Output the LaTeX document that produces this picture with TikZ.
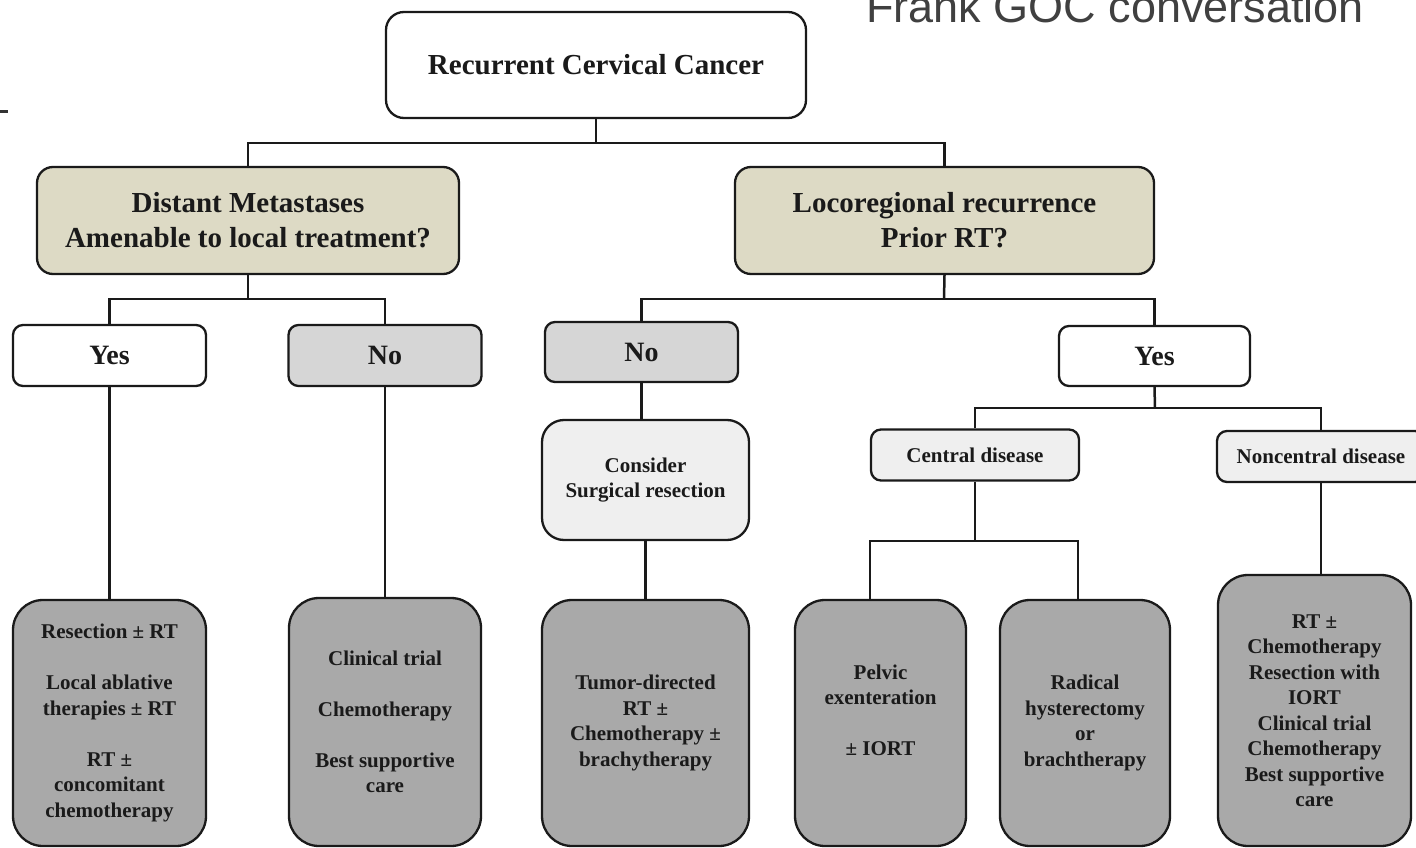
\documentclass[tikz,border=0pt]{standalone}
\usepackage{fontspec}
\setmainfont{Liberation Serif}
\newfontfamily\headsans{Liberation Sans}
\definecolor{beige}{HTML}{DDDAC5}
\definecolor{nogray}{HTML}{D6D6D6}
\definecolor{resgray}{HTML}{A9A9A9}
\definecolor{palegray}{HTML}{EFEFEF}
\definecolor{ink}{HTML}{1A1A1A}
\tikzset{
  basebox/.style={draw=ink, line width=2.3pt, align=center, inner sep=0pt,
    text=ink, font=\bfseries},
  topbox/.style={basebox, fill=white, rounded corners=18pt,
    font=\fontsize{29}{35}\selectfont\bfseries},
  qbox/.style={basebox, fill=beige, rounded corners=16pt,
    font=\fontsize{29}{35}\selectfont\bfseries},
  yesbox/.style={basebox, fill=white, rounded corners=10pt,
    minimum width=193pt, minimum height=61pt,
    font=\fontsize{28}{32}\selectfont\bfseries},
  nobox/.style={yesbox, fill=nogray},
  subbox/.style={basebox, fill=palegray, rounded corners=10pt,
    minimum width=208pt, minimum height=51pt,
    font=\fontsize{21}{25}\selectfont\bfseries},
  considerbox/.style={basebox, fill=palegray, rounded corners=22pt,
    minimum width=207pt, minimum height=120pt,
    font=\fontsize{21}{25.5}\selectfont\bfseries},
  resultbox/.style={basebox, fill=resgray, rounded corners=30pt,
    font=\fontsize{21}{25.5}\selectfont\bfseries},
  link/.style={draw=ink, line width=2.5pt}
}
\begin{document}
\begin{tikzpicture}[x=1pt,y=-1pt]
\useasboundingbox (0,0) rectangle (1416,848);
\fill[white] (0,0) rectangle (1416,848);

% header text and edge mark
\node[anchor=base west, inner sep=0pt, text=black!75,
  font=\headsans\fontsize{45}{50}\selectfont] (hdr) at (866,23) {Frank GOC conversation};
\draw[line width=3pt, draw=black!80] (0,112) -- (8,112);

% root
\node[topbox, minimum width=420pt, minimum height=106pt] (root) at (596,65) {Recurrent Cervical Cancer};

% first split
\node[qbox, minimum width=422pt, minimum height=107pt] (dm) at (248,220.5)
  {Distant Metastases\\Amenable to local treatment?};
\node[qbox, minimum width=419pt, minimum height=107pt] (lr) at (944.5,220.5)
  {Locoregional recurrence\\Prior RT?};
\coordinate (j1) at (596,143);
\draw[link] (root.south) -- (j1);
\draw[link] (dm.north) -- (dm.north |- j1) -- (lr.north |- j1) -- (lr.north);

% distant metastases branch
\node[yesbox] (yes1) at (109.5,355.5) {Yes};
\node[nobox] (no1) at (385,355.5) {No};
\coordinate (j2) at (248,299);
\draw[link] (dm.south) -- (j2);
\draw[link] (yes1.north) -- (yes1.north |- j2) -- (no1.north |- j2) -- (no1.north);

\node[resultbox, minimum width=193pt, minimum height=246pt] (res1) at (109.5,723)
  {Resection ± RT\\[25.5pt]Local ablative\\therapies ± RT\\[25.5pt]RT ±\\concomitant\\chemotherapy};
\node[resultbox, minimum width=192pt, minimum height=248pt] (res2) at (385,722)
  {Clinical trial\\[25.5pt]Chemotherapy\\[25.5pt]Best supportive\\care};
\draw[link] (yes1.south) -- (res1.north);
\draw[link] (no1.south) -- (res2.north);

% locoregional branch
\node[nobox, minimum height=60pt] (no2) at (641.5,352) {No};
\node[yesbox, minimum width=191pt, minimum height=60pt] (yes2) at (1154.5,356) {Yes};
\coordinate (j3) at (944,299);
\draw[link] (lr.south) -- (j3);
\draw[link] (no2.north) -- (no2.north |- j3) -- (yes2.north |- j3) -- (yes2.north);

\node[considerbox] (cons) at (645.5,480) {Consider\\Surgical resection};
\node[resultbox, minimum width=207pt, minimum height=246pt] (res3) at (645.5,723)
  {Tumor-directed\\RT ±\\Chemotherapy ±\\brachytherapy};
\draw[link] (no2.south) -- (no2.south |- cons.north);
\draw[link] (cons.south) -- (res3.north);

% prior RT: central vs noncentral
\node[subbox] (cen) at (975,455) {Central disease};
\node[subbox] (ncen) at (1321,456.5) {Noncentral disease};
\coordinate (j4) at (1155,408);
\draw[link] (yes2.south) -- (j4);
\draw[link] (cen.north) -- (cen.north |- j4) -- (ncen.north |- j4) -- (ncen.north);

\node[resultbox, minimum width=171pt, minimum height=246pt] (pel) at (880.5,723)
  {Pelvic\\exenteration\\[25.5pt]± IORT\\\mbox{}};
\node[resultbox, minimum width=170pt, minimum height=246pt] (rad) at (1085,723)
  {Radical\\hysterectomy\\or\\brachtherapy};
\node[resultbox, minimum width=193pt, minimum height=271pt] (ncr) at (1314.5,710.5)
  {RT ±\\Chemotherapy\\Resection with\\IORT\\Clinical trial\\Chemotherapy\\Best supportive\\care};
\coordinate (j5) at (975,541);
\draw[link] (cen.south) -- (j5);
\draw[link] ([xshift=-10.5pt]pel.north) -- ([xshift=-10.5pt]pel.north |- j5)
  -- ([xshift=-7pt]rad.north |- j5) -- ([xshift=-7pt]rad.north);
\draw[link] (ncen.south) -- (ncen.south |- ncr.north);
\end{tikzpicture}
\end{document}
